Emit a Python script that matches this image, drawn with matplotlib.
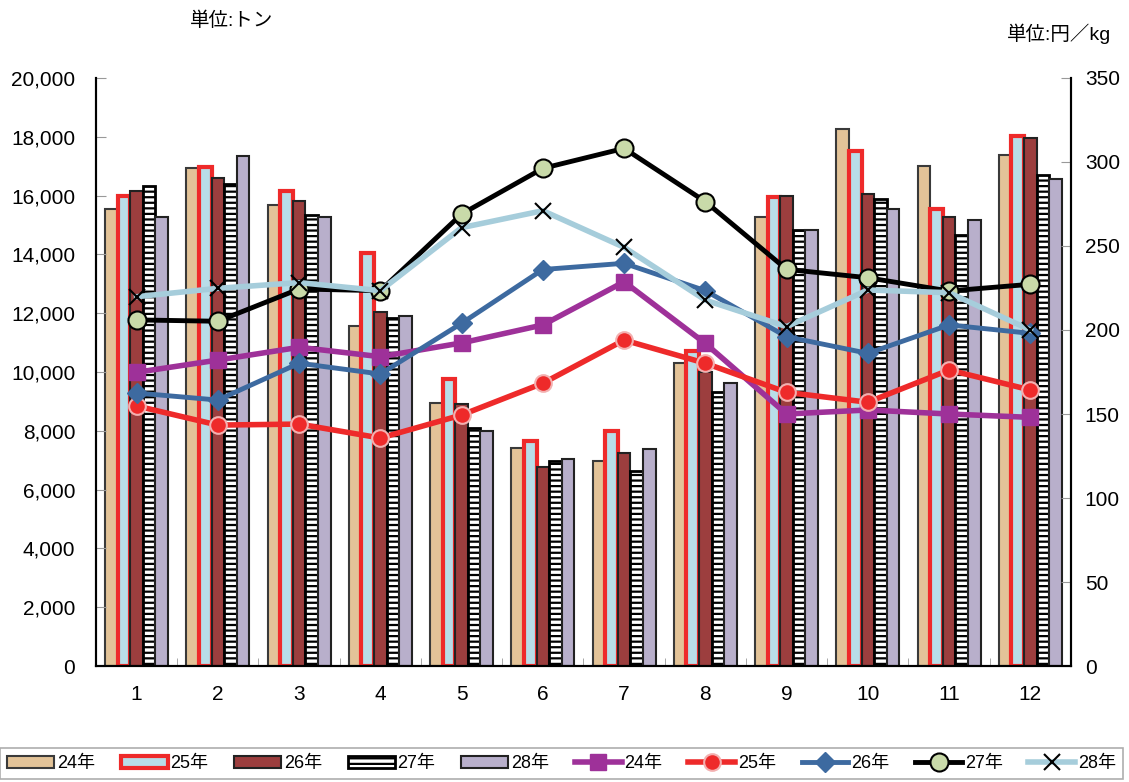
import numpy as np
import matplotlib
matplotlib.use('Agg')
import matplotlib.pyplot as plt
from matplotlib.ticker import FuncFormatter, MultipleLocator

plt.rcParams['font.family'] = ['Liberation Sans', 'Noto Sans CJK JP', 'DejaVu Sans']
plt.rcParams['hatch.linewidth'] = 1.6

months = ['1', '2', '3', '4', '5', '6', '7', '8', '9', '10', '11', '12']
years = ['24年', '25年', '26年', '27年', '28年']

# 数量 (トン)
qty_24 = [15530, 16940, 15680, 11580, 8960, 7430, 6980, 10300, 15280, 18250, 17020, 17380]
qty_25 = [15980, 16970, 16160, 14060, 9750, 7640, 7980, 10700, 15960, 17520, 15560, 18020]
qty_26 = [16160, 16590, 15830, 12050, 8900, 6780, 7230, 10010, 15990, 16070, 15280, 17950]
qty_27 = [16330, 16390, 15350, 11850, 8080, 6980, 6640, 9330, 14830, 15890, 14650, 16700]
qty_28 = [15270, 17350, 15270, 11890, 8000, 7040, 7390, 9610, 14830, 15550, 15180, 16550]

# 価格 (円/kg)
price_24 = [174.8, 182.1, 189.7, 184.1, 192.3, 203.0, 228.7, 192.0, 150.0, 152.4, 150.0, 148.0]
price_25 = [154.8, 143.4, 144.0, 135.7, 149.4, 168.3, 194.0, 180.2, 162.9, 157.0, 176.2, 164.3]
price_26 = [162.5, 158.3, 180.2, 173.8, 204.0, 236.0, 239.7, 223.4, 196.0, 186.1, 203.0, 198.0]
price_27 = [206.0, 205.2, 224.4, 223.4, 269.0, 296.2, 308.1, 276.4, 236.1, 231.1, 223.2, 227.2]
price_28 = [219.8, 224.8, 228.2, 223.4, 260.9, 271.0, 249.2, 217.8, 202.0, 223.8, 222.2, 200.0]

fig = plt.figure(figsize=(11.29, 7.82), dpi=100)
ax1 = fig.add_axes([0.085, 0.1483, 0.8636, 0.752])
ax2 = ax1.twinx()

x = np.arange(len(months))
w = 0.155
offsets = (np.arange(5) - 2) * w

bar_styles = [
    dict(color='#E3C398', edgecolor='#3a3a3a', linewidth=1.5),
    dict(color='#B8DDE8', edgecolor='#EE2A2A', linewidth=3.0),
    dict(color='#9C3E3E', edgecolor='#222222', linewidth=1.5),
    dict(color='white', edgecolor='black', linewidth=2.0, hatch='---'),
    dict(color='#B8AFCB', edgecolor='#222222', linewidth=1.5),
]
qtys = [qty_24, qty_25, qty_26, qty_27, qty_28]
handles = []
for i, (q, st) in enumerate(zip(qtys, bar_styles)):
    b = ax1.bar(x + offsets[i], q, w, label=years[i], **st)
    handles.append(b)

line_styles = [
    dict(color='#9E3199', lw=4, marker='s', ms=11, mfc='#9E3199', mec='#9E3199'),
    dict(color='#EE2A2A', lw=4, marker='o', ms=12, mfc='#EE2A2A', mec='#F3B0B0', mew=1.5),
    dict(color='#3D6AA0', lw=3.5, marker='D', ms=10, mfc='#3D6AA0', mec='#3D6AA0'),
    dict(color='black', lw=3.5, marker='o', ms=13, mfc='#C9DAA9', mec='black', mew=1.5),
    dict(color='#A6CDDB', lw=4, marker='x', ms=12, mfc='black', mec='black', mew=1.5),
]
prices = [price_24, price_25, price_26, price_27, price_28]
for i, (p, st) in enumerate(zip(prices, line_styles)):
    ln, = ax2.plot(x, p, label=years[i], **st)
    handles.append(ln)

ax1.set_xlim(-0.5, len(months) - 0.5)
ax1.set_ylim(0, 20000)
ax2.set_ylim(0, 350)
ax1.yaxis.set_major_locator(MultipleLocator(2000))
ax2.yaxis.set_major_locator(MultipleLocator(50))
ax1.yaxis.set_major_formatter(FuncFormatter(lambda v, p: f'{int(v):,}'))
ax1.set_xticks(x)
ax1.set_xticklabels(months)
ax1.set_xticks(np.arange(len(months) + 1) - 0.5, minor=True)

for ax in (ax1, ax2):
    ax.spines['top'].set_visible(False)
    for s in ('left', 'right', 'bottom'):
        ax.spines[s].set_color('black')
        ax.spines[s].set_linewidth(1.5)
ax1.tick_params(axis='y', direction='in', length=7, color='#999999', labelsize=15, pad=15)
ax2.tick_params(axis='y', direction='in', length=7, color='#999999', labelsize=15, pad=10)
ax1.tick_params(axis='x', which='major', length=0, labelsize=15, pad=14)
ax1.tick_params(axis='x', which='minor', direction='in', length=6, color='#999999')

fig.text(0.168, 0.973, '単位:トン', fontsize=14, ha='left', va='center')
fig.text(0.984, 0.957, '単位:円／kg', fontsize=14, ha='right', va='center')

leg = fig.legend(handles=handles, labels=years + years, loc='upper left',
                 bbox_to_anchor=(0.0, -0.1, 0.995, 0.1435), mode='expand', ncol=10,
                 frameon=True, fancybox=False, edgecolor='#999999', fontsize=13,
                 handlelength=2.6, handletextpad=0.15, columnspacing=0.8,
                 borderaxespad=0.0)
leg.get_frame().set_linewidth(1.2)

fig.savefig('out.png', dpi=100)
